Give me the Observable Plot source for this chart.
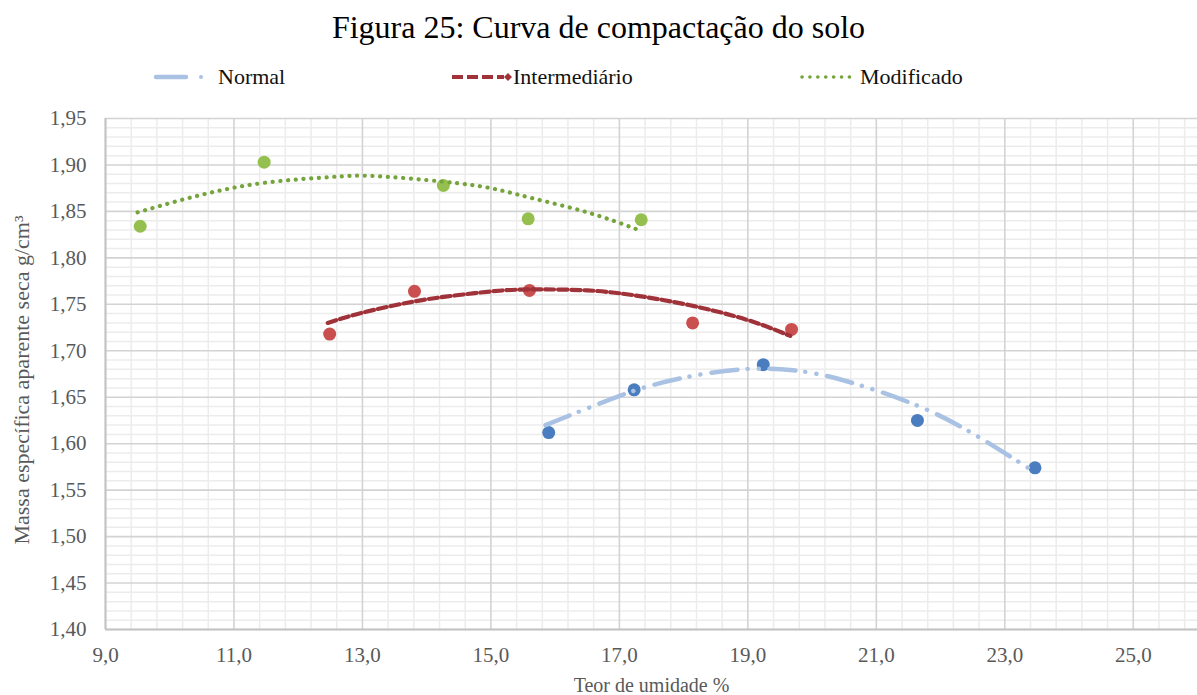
<!DOCTYPE html>
<html>
<head>
<meta charset="utf-8">
<script src="https://cdn.jsdelivr.net/npm/d3@7"></script>
<script src="https://cdn.jsdelivr.net/npm/@observablehq/plot@0.6"></script>
<style>
  body { margin: 0; background: #fff; font-family: "Liberation Serif", "Times New Roman", serif; }
  #wrap { position: relative; width: 1197px; height: 695px; overflow: hidden; background: #fff; }
  #title { position: absolute; top: 7px; left: 0; width: 1197px; text-align: center; font-size: 32px; color: #000; line-height: 40px; font-family: "Liberation Serif", serif; }
  .leg { position: absolute; top: 64px; height: 26px; font-size: 22px; color: #111; line-height: 26px; white-space: nowrap; font-family: "Liberation Serif", serif; }
  .leg svg { position: absolute; top: 0; }
  #chart { position: absolute; top: 100px; left: 0; }
  #chart svg text { font-family: "Liberation Serif", serif; }
</style>
</head>
<body>
<div id="wrap">
  <div id="title">Figura 25: Curva de compactação do solo</div>
  <div id="legend"></div>
  <div id="chart"></div>
</div>
<script>
// ---- data ----
const series = ["Normal", "Intermediário", "Modificado"];

// measured points
const umidadeNormal = [15.9, 17.23, 19.24, 21.64, 23.47];
const massaNormal   = [1.612, 1.658, 1.685, 1.625, 1.574];
const umidadeInter  = [12.49, 13.81, 15.6, 18.14, 19.68];
const massaInter    = [1.718, 1.764, 1.765, 1.730, 1.723];
const umidadeMod    = [9.54, 11.47, 14.26, 15.58, 17.34];
const massaMod      = [1.834, 1.903, 1.878, 1.842, 1.841];

// trend lines as seen on the picture
const trendNormalX = [15.85, 16.5, 17.23, 18.0, 18.9, 19.7, 20.5, 21.6, 22.5, 23.43];
const trendNormalY = [1.620, 1.638, 1.657, 1.671, 1.680, 1.679, 1.668, 1.642, 1.611, 1.571];
const trendInterX  = [12.46, 13.0, 13.8, 14.5, 15.2, 15.8, 16.5, 17.2, 18.1, 19.0, 19.66];
const trendInterY  = [1.730, 1.741, 1.753, 1.760, 1.765, 1.766, 1.765, 1.760, 1.749, 1.733, 1.716];
const trendModX    = [9.5, 10.5, 11.5, 12.5, 13.2, 14.26, 15.0, 15.6, 16.5, 17.3];
const trendModY    = [1.849, 1.868, 1.881, 1.887, 1.888, 1.882, 1.875, 1.865, 1.849, 1.830];

// ticks
const xTicks = [9, 11, 13, 15, 17, 19, 21, 23, 25];
const yTicks = [1.40, 1.45, 1.50, 1.55, 1.60, 1.65, 1.70, 1.75, 1.80, 1.85, 1.90, 1.95];

const colors = {
  Normal: { line: "#a9c2e4", dot: "#4a7cc0" },
  "Intermediário": { line: "#a0323a", dot: "#c9504f" },
  Modificado: { line: "#76a43c", dot: "#95c050" }
};

// build tables
const pts = [];
const addPts = (name, xs, ys) => xs.forEach((x, i) => pts.push({ serie: name, umidade: x, massa: ys[i] }));
addPts("Normal", umidadeNormal, massaNormal);
addPts("Intermediário", umidadeInter, massaInter);
addPts("Modificado", umidadeMod, massaMod);

const toRows = (xs, ys) => xs.map((x, i) => ({ umidade: x, massa: ys[i] }));
const trendNormal = toRows(trendNormalX, trendNormalY);
const trendInter = toRows(trendInterX, trendInterY);
const trendMod = toRows(trendModX, trendModY);

const xMinor = d3.range(9, 26.01, 0.4).filter(v => !xTicks.some(t => Math.abs(t - v) < 1e-6));
const yMinor = d3.range(1.40, 1.9501, 0.01).filter(v => !yTicks.some(t => Math.abs(t - v) < 1e-6));

const fmtX = d => d.toFixed(1).replace(".", ",");
const fmtY = d => d.toFixed(2).replace(".", ",");

const chart = Plot.plot({
  width: 1197,
  height: 595,
  marginTop: 18,
  marginBottom: 66,
  marginLeft: 105,
  marginRight: 0,
  x: { domain: [9, 26] },
  y: { domain: [1.40, 1.95] },
  style: { fontFamily: "'Liberation Serif', serif", color: "#595959", background: "transparent", overflow: "visible" },
  marks: [
    Plot.ruleX(xMinor, { stroke: "#ececec", strokeWidth: 1.5 }),
    Plot.ruleY(yMinor, { stroke: "#ececec", strokeWidth: 1.5 }),
    Plot.ruleX(xTicks, { stroke: "#d3d3d3", strokeWidth: 1.6 }),
    Plot.ruleY(yTicks, { stroke: "#d3d3d3", strokeWidth: 1.6 }),
    Plot.ruleX([9], { stroke: "#c4c4c4", strokeWidth: 2 }),
    Plot.ruleY([1.40], { stroke: "#c4c4c4", strokeWidth: 2 }),
    Plot.dot(pts, { x: "umidade", y: "massa", r: 6.5, fill: d => colors[d.serie].dot, stroke: "none" }),
    Plot.line(trendNormal, { x: "umidade", y: "massa", curve: "natural", stroke: colors.Normal.line, strokeWidth: 4.5, strokeDasharray: "26,10,0.1,11,0.1,11", strokeLinecap: "round" }),
    Plot.line(trendInter, { x: "umidade", y: "massa", curve: "natural", stroke: colors["Intermediário"].line, strokeWidth: 4.2, strokeDasharray: "9,4" }),
    Plot.line(trendMod, { x: "umidade", y: "massa", curve: "natural", stroke: colors.Modificado.line, strokeWidth: 4.2, strokeDasharray: "0.1,7.6", strokeLinecap: "round" }),
    Plot.axisX(xTicks, { tickSize: 0, tickPadding: 18, fontSize: 21, tickFormat: fmtX, label: null }),
    Plot.axisY(yTicks, { tickSize: 0, tickPadding: 19, fontSize: 21, tickFormat: fmtY, label: null }),
    Plot.text(["Teor de umidade %"], { frameAnchor: "bottom", lineAnchor: "middle", textAnchor: "middle", dx: 0, dy: 56, fontSize: 20, fill: "#595959" }),
    Plot.text(["Massa específica aparente seca g/cm³"], { frameAnchor: "left", lineAnchor: "middle", textAnchor: "middle", rotate: -90, dx: -84, dy: 6, fontSize: 22, fill: "#595959" })
  ]
});
document.getElementById("chart").appendChild(chart);

// legend
const legend = document.getElementById("legend");
const legItems = [
  { name: series[0], left: 150, textLeft: 218,
    svg: `<svg width="60" height="26"><line x1="6" y1="13" x2="36" y2="13" stroke="${colors.Normal.line}" stroke-width="4.5" stroke-linecap="round"/><circle cx="51" cy="13" r="2" fill="${colors.Normal.line}"/></svg>` },
  { name: series[1], left: 450, textLeft: 513,
    svg: `<svg width="64" height="26"><line x1="2" y1="13" x2="54" y2="13" stroke="${colors["Intermediário"].line}" stroke-width="4" stroke-dasharray="11,4"/><path d="M54,13 L58,9 L62,13 L58,17 Z" fill="${colors["Intermediário"].line}"/></svg>` },
  { name: series[2], left: 798, textLeft: 860,
    svg: `<svg width="60" height="26"><line x1="4" y1="13" x2="56" y2="13" stroke="${colors.Modificado.line}" stroke-width="3.6" stroke-dasharray="0.1,7.8" stroke-linecap="round"/></svg>` }
];
legItems.forEach(it => {
  const s = document.createElement("div");
  s.className = "leg";
  s.style.left = it.left + "px";
  s.innerHTML = it.svg;
  legend.appendChild(s);
  const t = document.createElement("div");
  t.className = "leg";
  t.style.left = it.textLeft + "px";
  t.textContent = it.name;
  legend.appendChild(t);
});
</script>
</body>
</html>
